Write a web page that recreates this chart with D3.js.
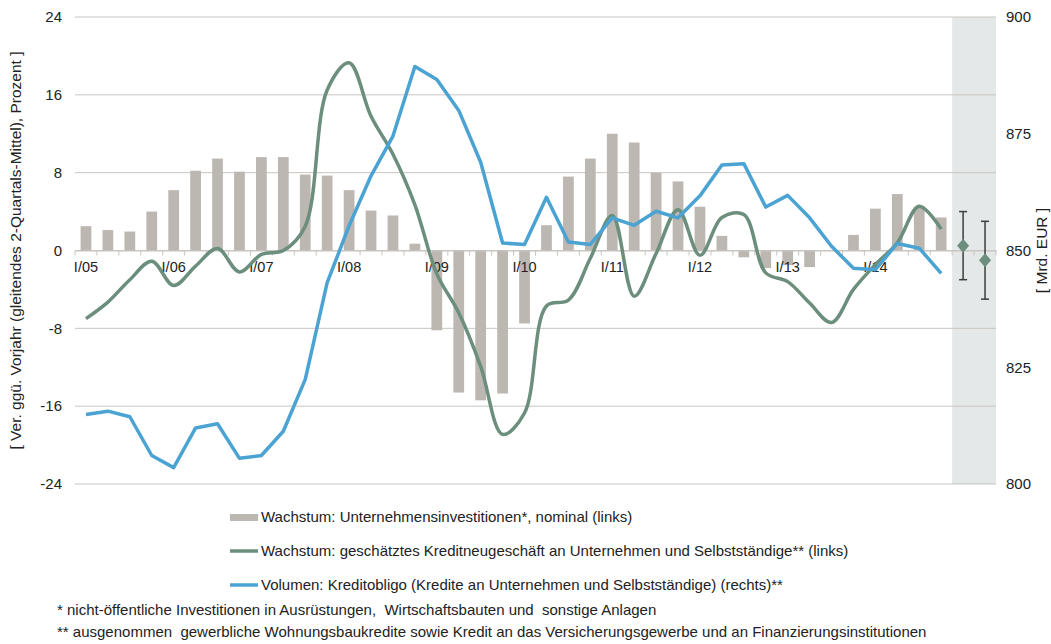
<!DOCTYPE html>
<html lang="de">
<head>
    <meta charset="UTF-8">
    <title>Unternehmensinvestitionen und Kredite</title>
    <script src="https://d3js.org/d3.v7.min.js"></script>
    <style>
        body {
            margin: 0;
            background: #fff;
            font-family: "Liberation Sans", Arial, Helvetica, sans-serif;
        }
        text {
            fill: #222;
            font-size: 15px;
        }
        .grid line {
            stroke: #c9c5c0;
            stroke-width: 1;
        }
        .bar {
            fill: #bdb7b2;
        }
        .credit {
            fill: none;
            stroke: #6b8e7d;
            stroke-width: 3.5;
        }
        .volume {
            fill: none;
            stroke: #4aa3d2;
            stroke-width: 3.5;
            stroke-linejoin: round;
        }
    </style>
</head>
<body>
<div id="chart"></div>
<script>
    // quarters I/05 .. IV/14
    const years = ["05", "06", "07", "08", "09", "10", "11", "12", "13", "14"];
    const romans = ["I", "II", "III", "IV"];
    const quarters = [];
    years.forEach(y => romans.forEach(r => quarters.push(r + "/" + y)));
    // two forecast slots in the shaded area
    const forecastSlots = ["Prognose 1", "Prognose 2"];

    // Wachstum Unternehmensinvestitionen (links, %)
    const investment = [2.5, 2.1, 1.95, 4.0, 6.2, 8.2, 9.45, 8.1, 9.6, 9.6,
        7.8, 7.7, 6.2, 4.1, 3.6, 0.7, -8.2, -14.6, -15.4, -14.7,
        -7.5, 2.6, 7.6, 9.45, 12.0, 11.1, 8.0, 7.1, 4.5, 1.5,
        -0.7, -1.8, -1.5, -1.7, 0, 1.6, 4.3, 5.8, 4.5, 3.4];

    // Wachstum Kreditneugeschaeft (links, %)
    const newCredit = [-7.0, -5.3, -3.0, -1.1, -3.6, -1.6, 0.2, -2.2, -0.4, 0.0,
        2.5, 16.5, 19.3, 13.8, 9.9, 4.7, -2.4, -6.4, -11.9, -18.9,
        -16.7, -5.7, -5.1, -0.8, 3.6, -4.7, -0.3, 4.2, -0.5, 3.4,
        3.7, -2.3, -3.2, -5.4, -7.4, -4.0, -1.45, 0.8, 4.55, 2.2];

    // Kreditobligo (rechts, Mrd. EUR)
    const creditVolume = [814.9, 815.6, 814.4, 806.1, 803.5, 812.0, 812.9, 805.5, 806.1, 811.3,
        822.4, 843.1, 855.3, 866.0, 874.5, 889.4, 886.6, 880.0, 868.9, 851.6,
        851.3, 861.4, 851.8, 851.3, 857.0, 855.4, 858.4, 857.0, 861.7, 868.3,
        868.6, 859.3, 861.8, 857.0, 850.9, 846.2, 845.9, 851.5, 850.5, 845.1];

    // Prognose Kreditneugeschaeft (links, %)
    const forecastMid = [0.5, -1.0];
    const forecastLow = [-3.0, -5.0];
    const forecastHigh = [4.0, 3.0];

    const leftTicks = [-24, -16, -8, 0, 8, 16, 24];
    const rightTicks = [800, 825, 850, 875, 900];

    const legendItems = [
        "Wachstum: Unternehmensinvestitionen*, nominal (links)",
        "Wachstum: geschätztes Kreditneugeschäft an Unternehmen und Selbstständige** (links)",
        "Volumen: Kreditobligo (Kredite an Unternehmen und Selbstständige) (rechts)**"
    ];
    const footnotes = [
        "* nicht-öffentliche Investitionen in Ausrüstungen,  Wirtschaftsbauten und  sonstige Anlagen",
        "** ausgenommen  gewerbliche Wohnungsbaukredite sowie Kredit an das Versicherungsgewerbe und an Finanzierungsinstitutionen"
    ];

    const totalWidth = 1051, totalHeight = 644;
    const margin = { top: 17, left: 75, right: 55 };
    const plotBottom = 484;

    const svg = d3.select("#chart").append("svg")
        .attr("width", totalWidth)
        .attr("height", totalHeight);

    const categories = quarters.concat(forecastSlots);
    const x = d3.scaleBand()
        .domain(categories)
        .range([margin.left, totalWidth - margin.right]);
    const cx = d => x(d) + x.bandwidth() / 2;

    const yLeft = d3.scaleLinear().domain([-24, 24]).range([plotBottom, margin.top]);
    const yRight = d3.scaleLinear().domain([800, 900]).range([plotBottom, margin.top]);

    // shaded forecast area
    svg.append("rect")
        .attr("x", x(forecastSlots[0]))
        .attr("y", margin.top)
        .attr("width", x.bandwidth() * forecastSlots.length)
        .attr("height", plotBottom - margin.top)
        .attr("fill", "#e4e8e8");

    // grid lines
    svg.append("g").attr("class", "grid")
        .selectAll("line")
        .data(leftTicks)
        .join("line")
        .attr("x1", margin.left)
        .attr("x2", totalWidth - margin.right)
        .attr("y1", d => yLeft(d))
        .attr("y2", d => yLeft(d));

    // left axis labels
    svg.append("g")
        .selectAll("text")
        .data(leftTicks)
        .join("text")
        .attr("x", 62)
        .attr("y", d => yLeft(d))
        .attr("dy", "0.35em")
        .attr("text-anchor", "end")
        .text(d => d);

    // right axis labels
    svg.append("g")
        .selectAll("text")
        .data(rightTicks)
        .join("text")
        .attr("x", 1006)
        .attr("y", d => yRight(d))
        .attr("dy", "0.35em")
        .attr("text-anchor", "start")
        .text(d => d);

    // axis titles
    svg.append("text")
        .attr("transform", `translate(16,${yLeft(0)}) rotate(-90)`)
        .attr("text-anchor", "middle")
        .attr("dy", "0.35em")
        .style("font-size", "15.5px")
        .text("[ Ver. ggü. Vorjahr (gleitendes 2-Quartals-Mittel), Prozent ]");

    svg.append("text")
        .attr("transform", `translate(1042,${yRight(850)}) rotate(-90)`)
        .attr("text-anchor", "middle")
        .attr("dy", "0.35em")
        .style("font-size", "15.5px")
        .text("[ Mrd. EUR ]");

    // bars
    svg.append("g")
        .selectAll("rect")
        .data(investment)
        .join("rect")
        .attr("class", "bar")
        .attr("x", (d, i) => cx(quarters[i]) - x.bandwidth() * 0.245)
        .attr("width", x.bandwidth() * 0.49)
        .attr("y", d => yLeft(Math.max(0, d)))
        .attr("height", d => Math.abs(yLeft(d) - yLeft(0)));

    // category axis on the zero line
    const xAxis = d3.axisBottom(x)
        .tickSize(0)
        .tickFormat(d => d.startsWith("I/") ? d : "");
    const axisG = svg.append("g")
        .attr("transform", `translate(0,${yLeft(0)})`)
        .call(xAxis);
    axisG.select(".domain").attr("stroke", "#c9c5c0");
    axisG.selectAll(".tick text")
        .attr("y", 11)
        .style("font-size", "14.5px")
        .style("font-family", "'Liberation Sans', Arial, sans-serif")
        .attr("fill", "#222");
    axisG.selectAll(".boundary")
        .data(categories.concat([null]))
        .join("line")
        .attr("class", "boundary")
        .attr("x1", (d, i) => margin.left + i * x.step())
        .attr("x2", (d, i) => margin.left + i * x.step())
        .attr("y1", 0)
        .attr("y2", 5)
        .attr("stroke", "#c9c5c0");

    // credit growth line (smoothed)
    const creditLine = d3.line()
        .x((d, i) => cx(quarters[i]))
        .y(d => yLeft(d))
        .curve(d3.curveCatmullRom.alpha(0.5));
    svg.append("path")
        .datum(newCredit)
        .attr("class", "credit")
        .attr("d", creditLine);

    // credit volume line
    const volumeLine = d3.line()
        .x((d, i) => cx(quarters[i]))
        .y(d => yRight(d));
    svg.append("path")
        .datum(creditVolume)
        .attr("class", "volume")
        .attr("d", volumeLine);

    // forecast with error bars
    const fc = svg.append("g");
    forecastSlots.forEach((s, i) => {
        const px = cx(s);
        fc.append("line")
            .attr("x1", px).attr("x2", px)
            .attr("y1", yLeft(forecastHigh[i])).attr("y2", yLeft(forecastLow[i]))
            .attr("stroke", "#3b403d").attr("stroke-width", 1.5);
        [forecastHigh[i], forecastLow[i]].forEach(v => {
            fc.append("line")
                .attr("x1", px - 4).attr("x2", px + 4)
                .attr("y1", yLeft(v)).attr("y2", yLeft(v))
                .attr("stroke", "#3b403d").attr("stroke-width", 1.5);
        });
        fc.append("path")
            .attr("d", "M0,-7L6,0L0,7L-6,0Z")
            .attr("transform", `translate(${px},${yLeft(forecastMid[i])})`)
            .attr("fill", "#6b8e7d");
    });

    // legend
    const legend = svg.append("g");
    const legendY = [517, 551, 585];
    legendItems.forEach((t, i) => {
        const g = legend.append("g").attr("transform", `translate(230,${legendY[i]})`);
        if (i === 0) {
            g.append("rect").attr("x", 0).attr("y", -3).attr("width", 28).attr("height", 7)
                .attr("fill", "#bdb7b2");
        } else {
            g.append("line").attr("x1", 0).attr("x2", 28).attr("y1", 0).attr("y2", 0)
                .attr("stroke", i === 1 ? "#6b8e7d" : "#4aa3d2").attr("stroke-width", 3.5);
        }
        g.append("text")
            .attr("x", 31)
            .attr("dy", "0.35em")
            .text(t);
    });

    // footnotes
    svg.append("g")
        .selectAll("text")
        .data(footnotes)
        .join("text")
        .attr("x", 57)
        .attr("y", (d, i) => 615 + i * 22)
        .attr("xml:space", "preserve")
        .style("white-space", "pre")
        .text(d => d);
</script>
</body>
</html>
